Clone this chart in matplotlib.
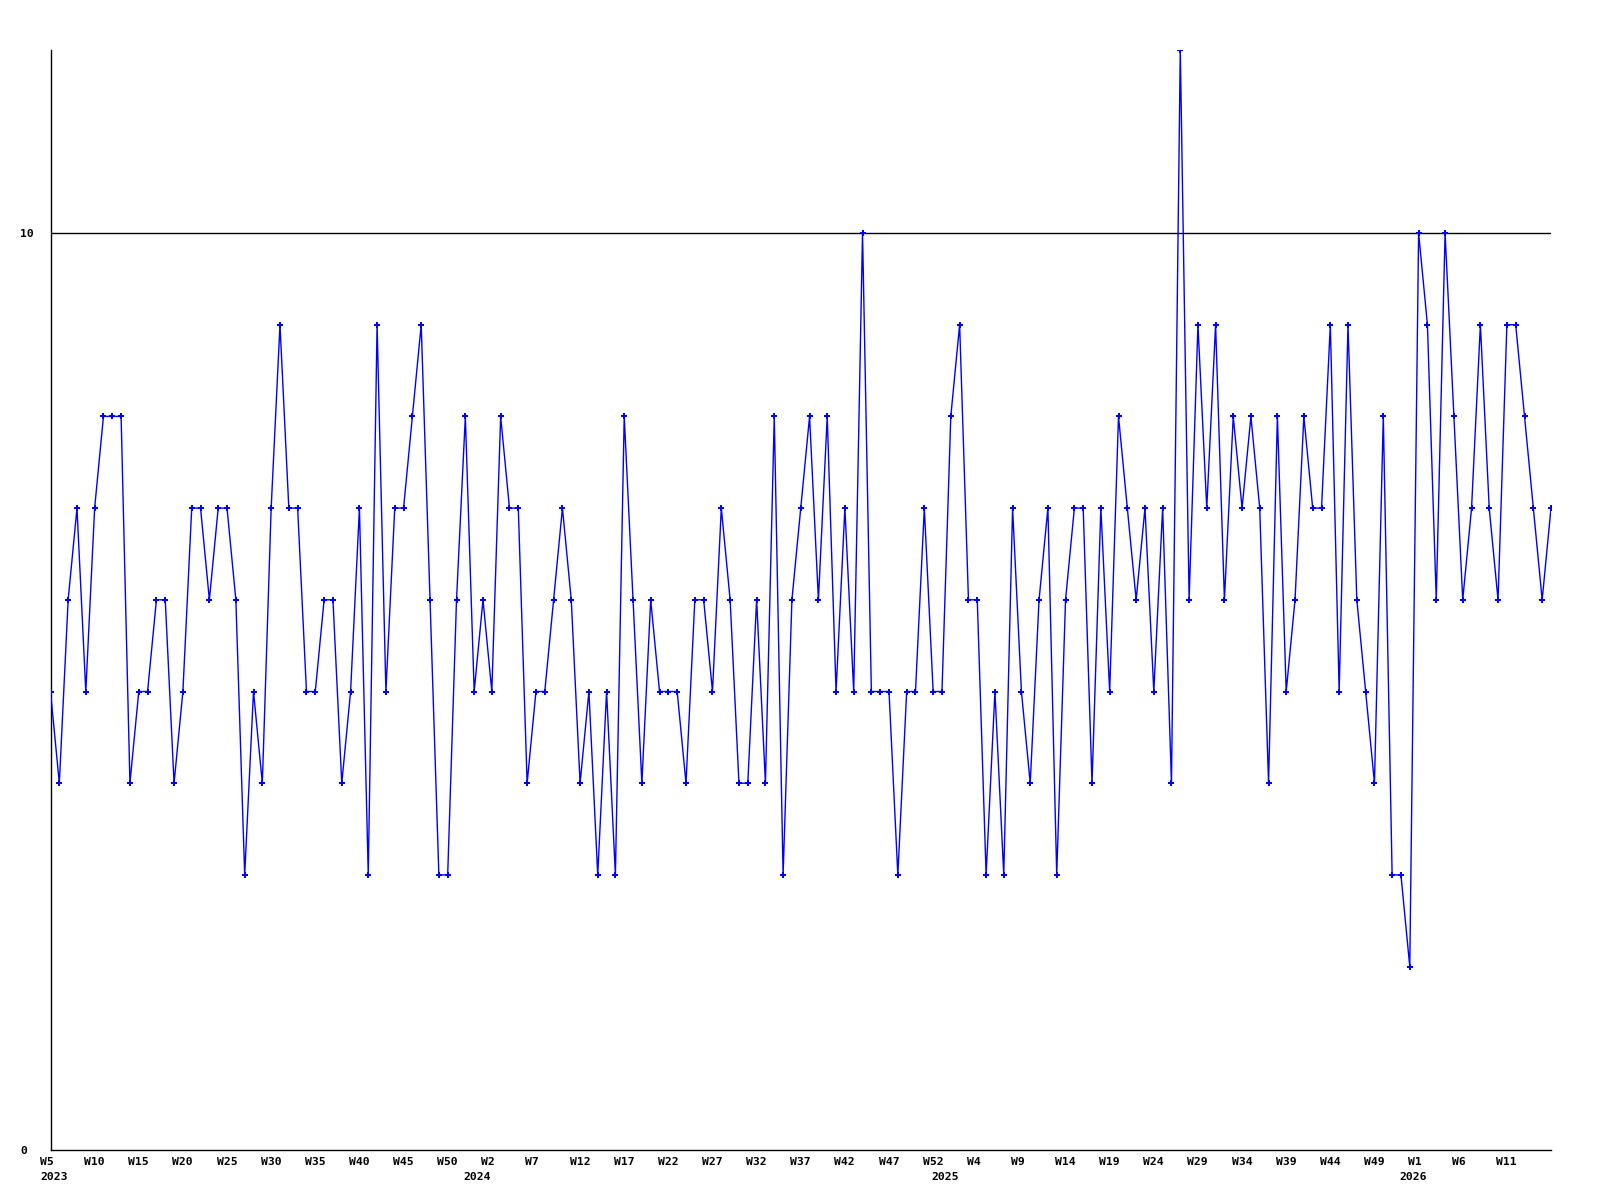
import matplotlib
matplotlib.use("Agg")
import matplotlib.pyplot as plt
from matplotlib.transforms import offset_copy

# weekly values, 2023 W5 onwards
values = [
    5, 4, 6, 7, 5, 7, 8, 8, 8, 4,
    5, 5, 6, 6, 4, 5, 7, 7, 6, 7,
    7, 6, 3, 5, 4, 7, 9, 7, 7, 5,
    5, 6, 6, 4, 5, 7, 3, 9, 5, 7,
    7, 8, 9, 6, 3,
    3, 6, 8, 5, 6, 5, 8, 7, 7, 4,
    5, 5, 6, 7, 6, 4, 5, 3, 5, 3,
    8, 6, 4, 6, 5, 5, 5, 4, 6, 6,
    5, 7, 6, 4, 4, 6, 4, 8, 3, 6,
    7, 8, 6,
    8, 5, 7, 5, 10, 5, 5, 5, 3, 5,
    5, 7, 5, 5, 8, 9, 6, 6, 3, 5,
    3, 7, 5, 4, 6, 7, 3, 6, 7, 7,
    4, 7, 5, 8, 7, 6, 7, 5, 7, 4,
    12,
    6, 9, 7, 9, 6, 8, 7, 8, 7, 4,
    8, 5, 6, 8, 7, 7, 9, 5, 9, 6,
    5, 4, 8, 3, 3, 2, 10, 9, 6, 10,
    8, 6, 7, 9, 7, 6, 9, 9, 8, 7,
    6, 7,
]

week_labels = ["W5", "W10", "W15", "W20", "W25", "W30", "W35", "W40", "W45", "W50",
               "W2", "W7", "W12", "W17", "W22", "W27", "W32", "W37", "W42", "W47",
               "W52", "W4", "W9", "W14", "W19", "W24", "W29", "W34", "W39", "W44",
               "W49", "W1", "W6", "W11"]
week_label_idx = list(range(0, 5 * len(week_labels), 5))

year_labels = ["2023", "2024", "2025", "2026"]
year_label_idx = [0, 48, 101, 154]

y_tick_values = [0, 10]
y_tick_labels = ["0", "10"]

fig = plt.figure(figsize=(16, 12), dpi=100)
ax = fig.add_axes([50.5 / 1600, 1 - 1150 / 1200, (1551 - 50.5) / 1600, (1150 - 49.6) / 1200])

x = list(range(len(values)))
ax.plot(x, values, color="#0000FF", linewidth=1.0, marker="P", markersize=4,
        markeredgewidth=0, markerfacecolor="#0000FF", zorder=3)

ax.set_xlim(0, len(values) - 1)
ax.set_ylim(0, 12)

for s in ["top", "right"]:
    ax.spines[s].set_visible(False)
for s in ["left", "bottom"]:
    ax.spines[s].set_color("black")
    ax.spines[s].set_linewidth(1.0)

ax.axhline(10, color="black", linewidth=1.0, zorder=1)

font = dict(family="DejaVu Sans Mono", weight="bold", size=8.2)

ax.set_xticks([])
ax.set_yticks(y_tick_values)
ax.set_yticklabels(y_tick_labels, **font)
ax.tick_params(axis="y", length=0, pad=21.7)
for lab in ax.get_yticklabels():
    lab.set_horizontalalignment("left")

base = ax.get_xaxis_transform()
wtrans = offset_copy(base, fig=fig, x=-10.5, y=-12, units="dots")
ytrans = offset_copy(base, fig=fig, x=-10.5, y=-27, units="dots")
for i, lab in zip(week_label_idx, week_labels):
    ax.text(i, 0, lab, transform=wtrans, ha="left", va="center", **font)
for i, lab in zip(year_label_idx, year_labels):
    ax.text(i, 0, lab, transform=ytrans, ha="left", va="center", **font)

fig.savefig("out.png", dpi=100, facecolor="white")
